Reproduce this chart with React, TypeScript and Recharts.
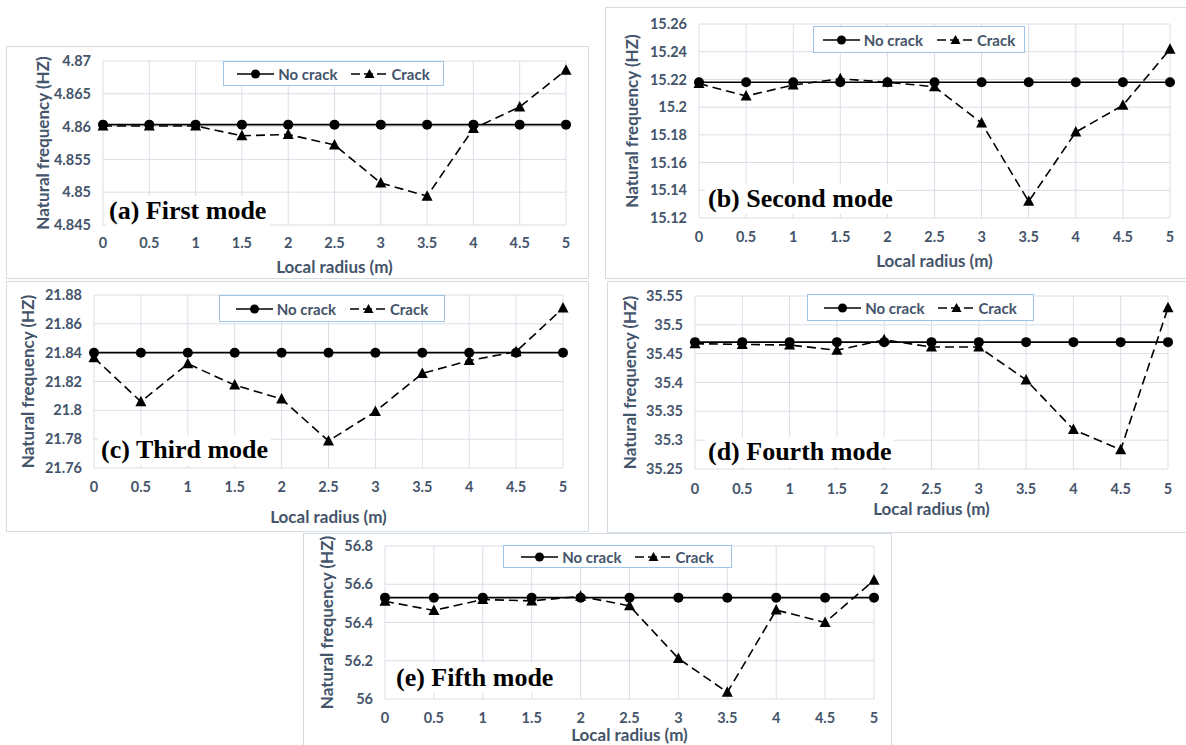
import { LineChart, Line, XAxis, YAxis, CartesianGrid, Legend } from 'recharts';

// local radius (m), shared by all modes
const radius = [0, 0.5, 1, 1.5, 2, 2.5, 3, 3.5, 4, 4.5, 5];

// natural frequency (HZ)
const firstNoCrack = [4.8603, 4.8603, 4.8603, 4.8603, 4.8603, 4.8603, 4.8603, 4.8603, 4.8603, 4.8603, 4.8603];
const firstCrack = [4.8601, 4.8601, 4.8601, 4.8586, 4.8588, 4.8572, 4.8514, 4.8494, 4.8597, 4.863, 4.8686];
const firstTicks = [4.845, 4.85, 4.855, 4.86, 4.865, 4.87];

const secondNoCrack = [15.218, 15.218, 15.218, 15.218, 15.218, 15.218, 15.218, 15.218, 15.218, 15.218, 15.218];
const secondCrack = [15.217, 15.208, 15.216, 15.2205, 15.218, 15.2147, 15.1885, 15.132, 15.182, 15.2013, 15.2418];
const secondTicks = [15.12, 15.14, 15.16, 15.18, 15.2, 15.22, 15.24, 15.26];

const thirdNoCrack = [21.84, 21.84, 21.84, 21.84, 21.84, 21.84, 21.84, 21.84, 21.84, 21.84, 21.84];
const thirdCrack = [21.8365, 21.806, 21.8323, 21.8175, 21.8078, 21.7788, 21.7992, 21.8256, 21.8345, 21.8407, 21.8709];
const thirdTicks = [21.76, 21.78, 21.8, 21.82, 21.84, 21.86, 21.88];

const fourthNoCrack = [35.47, 35.47, 35.47, 35.47, 35.47, 35.47, 35.47, 35.47, 35.47, 35.47, 35.47];
const fourthCrack = [35.4673, 35.466, 35.465, 35.456, 35.474, 35.4615, 35.4615, 35.4045, 35.3185, 35.2835, 35.5295];
const fourthTicks = [35.25, 35.3, 35.35, 35.4, 35.45, 35.5, 35.55];

const fifthNoCrack = [56.53, 56.53, 56.53, 56.53, 56.53, 56.53, 56.53, 56.53, 56.53, 56.53, 56.53];
const fifthCrack = [56.511, 56.463, 56.52, 56.513, 56.537, 56.487, 56.212, 56.035, 56.465, 56.4, 56.621];
const fifthTicks = [56, 56.2, 56.4, 56.6, 56.8];

const TEXT = '#44546A';
const GRID = '#D9DEE6';
const BORDER = '#D6DCE4';
const TICK_SIZE = 14.5;
const TITLE_SIZE = 17;

interface PanelSpec {
  id: string;
  title: string;
  noCrack: number[];
  crack: number[];
  yTicks: number[];
  box: number[]; // left, top, width, height
  plot: number[]; // left, top, right, bottom
  legend: number[]; // left, top, width, height
  yTitleX: number;
  xTickY: number;
  xTitleY: number;
  note: number[]; // left, center y
}

const panels: PanelSpec[] = [
  {
    id: 'a', title: '(a) First mode', noCrack: firstNoCrack, crack: firstCrack, yTicks: firstTicks,
    box: [6, 46, 583, 233], plot: [103, 61, 566, 225], legend: [223, 61, 221, 25],
    yTitleX: 43, xTickY: 243, xTitleY: 267, note: [109, 211],
  },
  {
    id: 'b', title: '(b) Second mode', noCrack: secondNoCrack, crack: secondCrack, yTicks: secondTicks,
    box: [605, 7, 583, 272], plot: [699, 24, 1170, 218], legend: [813, 26, 212, 27],
    yTitleX: 632, xTickY: 237, xTitleY: 261, note: [708, 199],
  },
  {
    id: 'c', title: '(c) Third mode', noCrack: thirdNoCrack, crack: thirdCrack, yTicks: thirdTicks,
    box: [6, 281, 583, 251], plot: [94, 295, 563, 468], legend: [219, 295, 226, 27],
    yTitleX: 28, xTickY: 487, xTitleY: 517, note: [101, 450],
  },
  {
    id: 'd', title: '(d) Fourth mode', noCrack: fourthNoCrack, crack: fourthCrack, yTicks: fourthTicks,
    box: [607, 281, 581, 252], plot: [695, 296, 1168, 469], legend: [807, 294, 227, 27],
    yTitleX: 630, xTickY: 489, xTitleY: 509, note: [708, 452],
  },
  {
    id: 'e', title: '(e) Fifth mode', noCrack: fifthNoCrack, crack: fifthCrack, yTicks: fifthTicks,
    box: [303, 533, 589, 214], plot: [385, 546, 874, 699], legend: [503, 545, 229, 23],
    yTitleX: 327, xTickY: 718, xTitleY: 735, note: [396, 678],
  },
];

const tickStyle = { fontFamily: 'Lato', fontWeight: 700, fontSize: TICK_SIZE, fill: TEXT };
const titleStyle = { fontFamily: 'Lato', fontWeight: 700, fontSize: TITLE_SIZE, fill: TEXT, textAnchor: 'middle' as const };

const Circle = (props: any) => {
  const { cx, cy } = props;
  if (cx == null || cy == null) return <g />;
  return <circle cx={cx} cy={cy} r={5} fill="#000" />;
};

const Triangle = (props: any) => {
  const { cx, cy } = props;
  if (cx == null || cy == null) return <g />;
  return <polygon points={`${cx},${cy - 6} ${cx + 5.5},${cy + 4.5} ${cx - 5.5},${cy + 4.5}`} fill="#000" />;
};

const LegendBox = ({ width, height }: { width: number; height: number }) => (
  <div
    style={{
      width, height, boxSizing: 'border-box', border: '1px solid #9DC3E6', background: '#fff',
      display: 'flex', alignItems: 'center', justifyContent: 'center',
      fontFamily: 'Lato', fontWeight: 700, fontSize: 15, color: TEXT, whiteSpace: 'nowrap',
    }}
  >
    <svg width={37} height={12}>
      <line x1={0} y1={6} x2={37} y2={6} stroke="#000" strokeWidth={1.5} />
      <circle cx={18.5} cy={6} r={4.5} fill="#000" />
    </svg>
    <span style={{ marginLeft: 4, marginRight: 14 }}>No crack</span>
    <svg width={37} height={12}>
      <line x1={0} y1={6} x2={37} y2={6} stroke="#000" strokeWidth={1.5} strokeDasharray="9 4" />
      <polygon points="18.5,1 23.5,10 13.5,10" fill="#000" />
    </svg>
    <span style={{ marginLeft: 3 }}>Crack</span>
  </div>
);

const Panel = ({ p }: { p: PanelSpec }) => {
  const [L, T, W, H] = p.box;
  const [pl, pt, pr, pb] = p.plot;
  const data = radius.map((r, i) => ({ r, noCrack: p.noCrack[i], crack: p.crack[i] }));
  return (
    <>
      <div
        style={{
          position: 'absolute', left: L, top: T, width: W, height: H,
          border: `1px solid ${BORDER}`, boxSizing: 'border-box', background: '#fff',
        }}
      />
      <div style={{ position: 'absolute', left: L, top: T }}>
        <LineChart width={W} height={H} data={data} margin={{ top: pt - T, right: L + W - pr, bottom: 0, left: 0 }}>
          <CartesianGrid stroke={GRID} />
          <XAxis
            type="number"
            dataKey="r"
            domain={[0, 5]}
            ticks={radius}
            interval={0}
            axisLine={false}
            tickLine={false}
            tickSize={0}
            tickMargin={p.xTickY - 0.36 * TICK_SIZE - pb}
            height={T + H - pb}
            tick={tickStyle}
            label={{ value: 'Local radius (m)', position: 'insideBottom', offset: T + H - (p.xTitleY + 6), style: titleStyle }}
          />
          <YAxis
            type="number"
            domain={[p.yTicks[0], p.yTicks[p.yTicks.length - 1]]}
            ticks={p.yTicks}
            interval={0}
            axisLine={false}
            tickLine={false}
            tickSize={0}
            tickMargin={12}
            width={pl - L}
            tick={tickStyle}
            label={{ value: 'Natural frequency (HZ)', angle: -90, position: 'insideLeft', offset: p.yTitleX - L, style: titleStyle }}
          />
          <Legend
            verticalAlign="middle"
            align="center"
            wrapperStyle={{ left: p.legend[0] - L, top: p.legend[1] - T, width: p.legend[2], height: p.legend[3] }}
            content={() => <LegendBox width={p.legend[2]} height={p.legend[3]} />}
          />
          <Line
            dataKey="noCrack"
            stroke="#000"
            strokeWidth={1.6}
            dot={(d: any) => <Circle key={`c-${d.index}`} {...d} />}
            isAnimationActive={false}
          />
          <Line
            dataKey="crack"
            stroke="#000"
            strokeWidth={1.6}
            strokeDasharray="9 5"
            dot={(d: any) => <Triangle key={`t-${d.index}`} {...d} />}
            isAnimationActive={false}
          />
        </LineChart>
      </div>
      <div
        style={{
          position: 'absolute', left: p.note[0] - 3, top: p.note[1] - 15, padding: '0 3px',
          fontFamily: '"Liberation Serif", serif', fontWeight: 700, fontSize: 26, lineHeight: '30px',
          color: '#000', background: '#fff', whiteSpace: 'nowrap',
        }}
      >
        {p.title}
      </div>
    </>
  );
};

export default function App() {
  return (
    <div style={{ position: 'absolute', left: 0, top: 0, width: 1186, height: 745, overflow: 'hidden', background: '#fff' }}>
      {panels.map((p) => (
        <Panel key={p.id} p={p} />
      ))}
    </div>
  );
}
